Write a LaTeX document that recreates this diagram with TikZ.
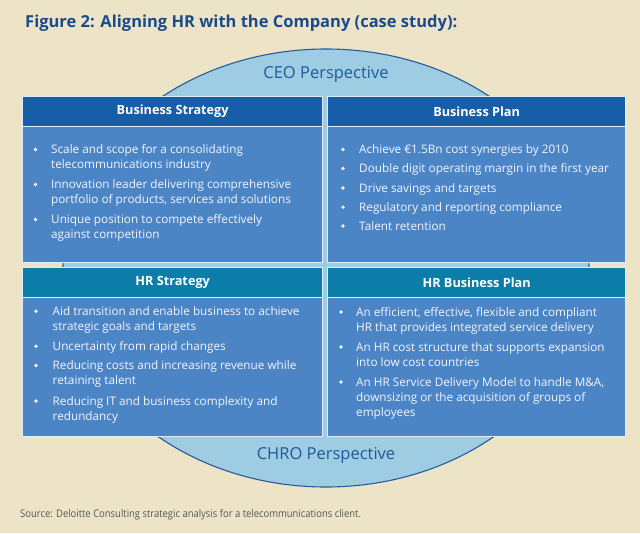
\documentclass[tikz,border=0pt]{standalone}
\usepackage{fontspec}
\setmainfont{Open Sans}
\newfontfamily\srcfont[FakeStretch=0.9]{Open Sans}
\usetikzlibrary{shapes.geometric}
\definecolor{bgbeige}{RGB}{237,228,200}
\definecolor{ellfill}{RGB}{158,205,227}
\definecolor{ellline}{RGB}{40,90,155}
\definecolor{persptext}{RGB}{30,90,155}
\definecolor{titleblue}{RGB}{25,75,140}
\definecolor{hdrblue}{RGB}{22,94,168}
\definecolor{hdrteal}{RGB}{12,125,168}
\definecolor{bodyblue}{RGB}{75,133,198}
\definecolor{boxedge}{RGB}{222,238,248}
\definecolor{srcgray}{RGB}{85,85,85}
\tikzset{
  bodybox/.style={anchor=north west, fill=bodyblue, draw=boxedge, line width=1.3pt, inner sep=0pt},
  hdrbox/.style={anchor=north west, draw=boxedge, line width=1.3pt, inner sep=0pt, minimum height=30pt,
     font=\fontsize{12.7}{14}\selectfont\bfseries, text=white},
  itemtext/.style={anchor=base west, align=left, inner sep=0pt, text=white!96!blue,
     font=\fontsize{11.75}{15}\selectfont},
  bulletdot/.style={fill=white!96!blue},
  persp/.style={text=persptext, font=\fontsize{16.5}{18}\selectfont, inner sep=0pt}
}
\begin{document}
\begin{tikzpicture}[x=1pt,y=-1pt]
\useasboundingbox (0,0) rectangle (640,533);
\fill[bgbeige] (0,0) rectangle (640,533);

\node[anchor=base west, inner sep=0pt, text=titleblue, font=\fontsize{16.5}{18}\selectfont\bfseries] (title) at (25,27)
  {Figure 2: Aligning HR with the Company (case study):};

\node[ellipse, fill=ellfill, draw=ellline, line width=1.1pt, minimum width=526pt, minimum height=438pt, inner sep=0pt] (circ) at (326,268) {};

\node[persp] (ceo) at (326,74) {CEO Perspective};
\node[persp] (chro) at (326,455) {CHRO Perspective};

% top-left
\node[bodybox, minimum width=300pt, minimum height=166pt] (bsbody) at (22,96) {};
\node[hdrbox, fill=hdrblue, minimum width=300pt] (bshdr) at (22,96) {Business Strategy};
% top-right
\node[bodybox, minimum width=298pt, minimum height=166pt] (bpbody) at (327,96) {};
\node[hdrbox, fill=hdrblue, minimum width=298pt] (bphdr) at (327,96) {Business Plan};
% bottom-left
\node[bodybox, minimum width=300pt, minimum height=169pt] (hsbody) at (22,267) {};
\node[hdrbox, fill=hdrteal, minimum width=300pt] (hshdr) at (22,267) {HR Strategy};
% bottom-right
\node[bodybox, minimum width=298pt, minimum height=169pt] (hpbody) at (327,267) {};
\node[hdrbox, fill=hdrteal, minimum width=298pt] (hphdr) at (327,267) {HR Business Plan};

% Business Strategy items (anchor = baseline of last line)
\fill[bulletdot] (35.5,149.5) circle (1.8);
\node[itemtext] (bs1) at (51,168.8) {Scale and scope for a consolidating\\telecommunications industry};
\fill[bulletdot] (35.5,184.5) circle (1.8);
\node[itemtext] (bs2) at (51,203.8) {Innovation leader delivering comprehensive\\portfolio of products, services and solutions};
\fill[bulletdot] (35.5,219.5) circle (1.8);
\node[itemtext] (bs3) at (51,238.8) {Unique position to compete effectively\\against competition};

% Business Plan items
\fill[bulletdot] (343,149.5) circle (1.8);
\node[itemtext] (bp1) at (359,153.8) {Achieve €1.5Bn cost synergies by 2010};
\fill[bulletdot] (343,168.5) circle (1.8);
\node[itemtext] (bp2) at (359,172.8) {Double digit operating margin in the first year};
\fill[bulletdot] (343,188) circle (1.8);
\node[itemtext] (bp3) at (359,192.2) {Drive savings and targets};
\fill[bulletdot] (343,207.2) circle (1.8);
\node[itemtext] (bp4) at (359,211.5) {Regulatory and reporting compliance};
\fill[bulletdot] (343,226) circle (1.8);
\node[itemtext] (bp5) at (359,230.2) {Talent retention};

% HR Strategy items
\fill[bulletdot] (36,311.2) circle (1.8);
\node[itemtext] (hs1) at (52.5,330.5) {Aid transition and enable business to achieve\\strategic goals and targets};
\fill[bulletdot] (36,346.2) circle (1.8);
\node[itemtext] (hs2) at (52.5,350.5) {Uncertainty from rapid changes};
\fill[bulletdot] (36,365.5) circle (1.8);
\node[itemtext] (hs3) at (52.5,384.8) {Reducing costs and increasing revenue while\\retaining talent};
\fill[bulletdot] (36,401) circle (1.8);
\node[itemtext] (hs4) at (52.5,420.2) {Reducing IT and business complexity and\\redundancy};

% HR Business Plan items
\fill[bulletdot] (341,312) circle (1.8);
\node[itemtext] (hp1) at (356,331.2) {An efficient, effective, flexible and compliant\\HR that provides integrated service delivery};
\fill[bulletdot] (341,347) circle (1.8);
\node[itemtext] (hp2) at (356,366.2) {An HR cost structure that supports expansion\\into low cost countries};
\fill[bulletdot] (341,382) circle (1.8);
\node[itemtext] (hp3) at (356,416.2) {An HR Service Delivery Model to handle M\&A,\\downsizing or the acquisition of groups of\\employees};

\node[anchor=base west, inner sep=0pt, text=srcgray, font=\srcfont\fontsize{10.5}{12}\selectfont] (src) at (20,517)
  {Source: Deloitte Consulting strategic analysis for a telecommunications client.};
\end{tikzpicture}
\end{document}
